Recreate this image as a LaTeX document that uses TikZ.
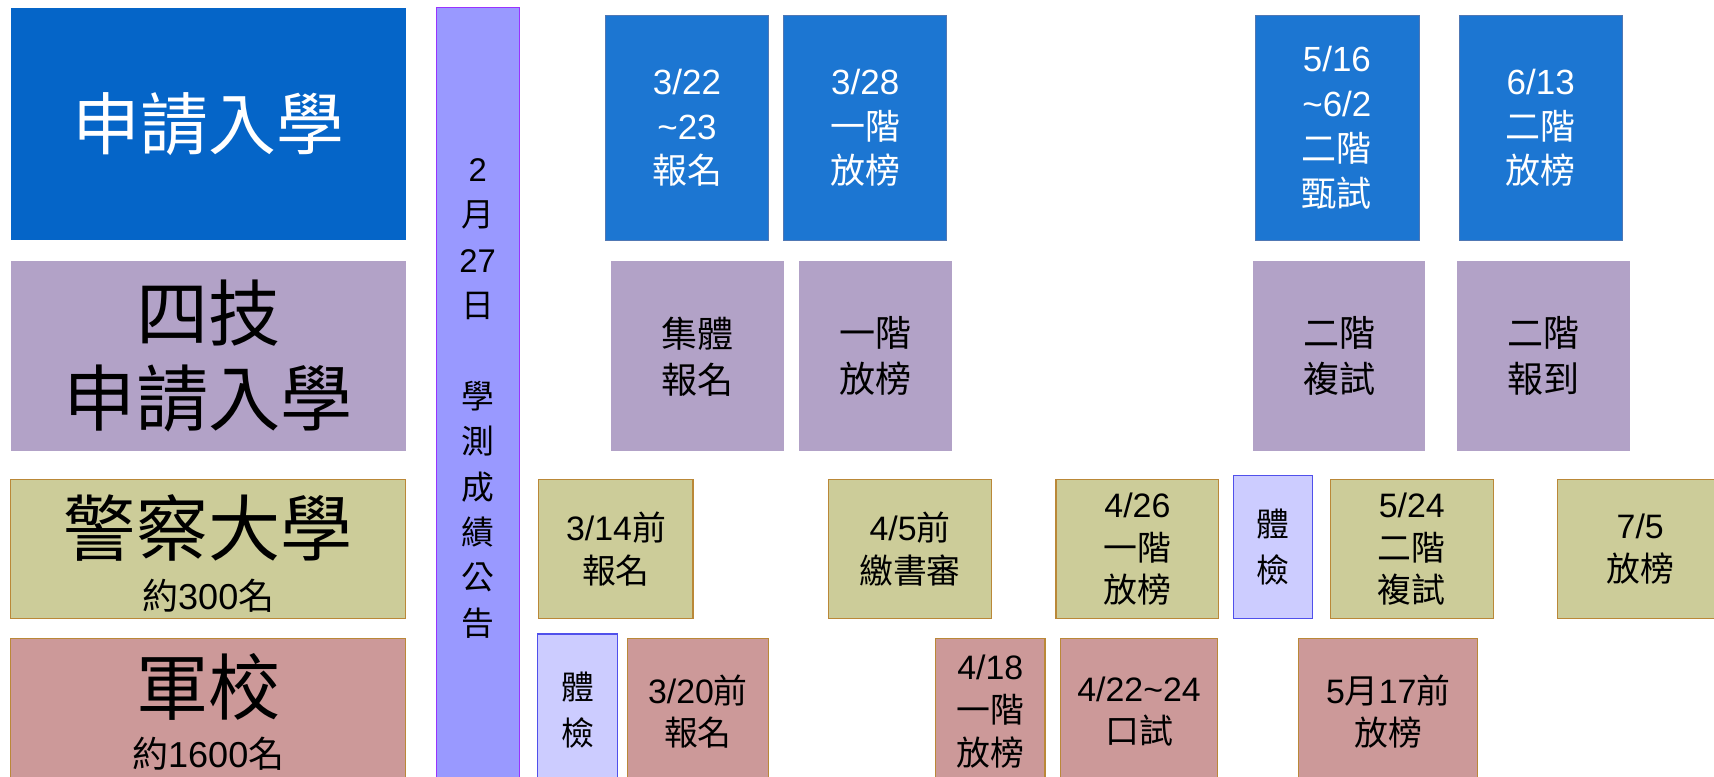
\documentclass[tikz,border=0pt]{standalone}
\usepackage{fontspec}
\setmainfont{Noto Sans CJK TC}
\newfontfamily\latin{Liberation Sans}
\newcommand\en[1]{{\latin #1}}

\definecolor{appblue}{RGB}{5,101,200}
\definecolor{evblue}{RGB}{28,118,210}
\definecolor{evblueedge}{RGB}{80,120,180}
\definecolor{techpurple}{RGB}{178,162,199}
\definecolor{policeolive}{RGB}{204,204,153}
\definecolor{milrose}{RGB}{204,153,153}
\definecolor{edgebrown}{RGB}{186,136,56}
\definecolor{checklav}{RGB}{204,204,255}
\definecolor{checkedge}{RGB}{80,80,235}
\definecolor{barfill}{RGB}{153,153,255}
\definecolor{baredge}{RGB}{153,51,255}

\tikzset{
  cell/.style={anchor=north west, inner sep=0pt, outer sep=0pt, align=center},
  rowlabel/.style={cell, draw=none},
  appevent/.style={cell, fill=evblue, draw=evblueedge, line width=0.6pt,
    text=white, font=\fontsize{32}{41}\selectfont},
  techevent/.style={cell, fill=techpurple, font=\fontsize{33}{42}\selectfont},
  policeevent/.style={cell, fill=policeolive, draw=edgebrown, line width=1pt,
    font=\fontsize{31}{39}\selectfont},
  milevent/.style={cell, fill=milrose, draw=edgebrown, line width=1pt,
    font=\fontsize{31}{39}\selectfont},
  checkup/.style={cell, fill=checklav, draw=checkedge, line width=1pt,
    font=\fontsize{30}{42}\selectfont},
  bigname/.style={font=\fontsize{66}{78}\selectfont, inner sep=0pt},
  quota/.style={font=\fontsize{33}{38}\selectfont, inner sep=0pt}
}

\begin{document}
\begin{tikzpicture}[x=1pt,y=-1pt]
  \useasboundingbox (0,0) rectangle (1568,710);
  \clip (0,0) rectangle (1568,710);
  \fill[white] (0,0) rectangle (1568,710);

  % row labels
  \node[rowlabel, fill=appblue, text=white, font=\fontsize{62}{70}\selectfont,
    minimum width=361, minimum height=213] (appL) at (10,7) {申請入學};
  \node[rowlabel, fill=techpurple, font=\fontsize{66}{78}\selectfont,
    minimum width=361, minimum height=174] (techL) at (10,239) {四技\\申請入學};
  \node[rowlabel, fill=policeolive, draw=edgebrown, line width=1pt,
    minimum width=361, minimum height=127] (policeL) at (10,439) {};
  \node[bigname] (policeN) at (190.5,483) {警察大學};
  \node[quota] (policeQ) at (190.5,545) {約\en{300}名};
  \node[rowlabel, fill=milrose, draw=edgebrown, line width=1pt,
    minimum width=361, minimum height=140] (milL) at (10,584) {};
  \node[bigname] (milN) at (190.5,628) {軍校};
  \node[quota] (milQ) at (190.5,690) {約\en{1600}名};

  % 2/27 exam results bar
  \node[cell, fill=barfill, draw=baredge, line width=1pt,
    font=\fontsize{30}{41.5}\selectfont, minimum width=76, minimum height=715]
    (exam) at (399,7) {\en{2}\\月\\\en{27}\\日\\[41.5pt]學\\測\\成\\績\\公\\告};

  % 申請入學
  \foreach \n/\xa/\xb/\txt in {
      1/554/703/{\en{3/22}\\\en{\textasciitilde23}\\報名},
      2/717/866/{\en{3/28}\\一階\\放榜},
      3/1148/1298/{\en{5/16}\\\en{\textasciitilde6/2}\\二階\\甄試},
      4/1335/1484/{\en{6/13}\\二階\\放榜}}
    \node[appevent, minimum width=\xb-\xa, minimum height=206] (app\n) at (\xa,14) {\txt};

  % 四技申請入學
  \foreach \n/\xa/\xb/\txt in {
      1/559/717/{集體\\報名},
      2/731/871/{一階\\放榜},
      3/1146/1304/{二階\\複試},
      4/1333/1491/{二階\\報到}}
    \node[techevent, minimum width=\xb-\xa, minimum height=174] (tech\n) at (\xa,239) {\txt};

  % 警察大學
  \foreach \n/\xa/\xb/\txt in {
      1/493/634/{\en{3/14}前\\報名},
      2/758/907/{\en{4/5}前\\繳書審},
      3/966/1115/{\en{4/26}\\一階\\放榜},
      4/1217/1366/{\en{5/24}\\二階\\複試},
      5/1425/1576/{\en{7/5}\\放榜}}
    \node[policeevent, minimum width=\xb-\xa, minimum height=127] (police\n) at (\xa,439) {\txt};
  \node[checkup, minimum width=73, minimum height=131] (policeChk) at (1128,435) {體\\檢};

  % 軍校
  \foreach \n/\xa/\xb/\txt in {
      1/574/703/{\en{3/20}前\\報名},
      2/856/956/{\en{4/18}\\一階\\放榜},
      3/970/1114/{\en{4/22\textasciitilde24}\\口試},
      4/1188/1352/{\en{5}月\en{17}前\\放榜}}
    \node[milevent, minimum width=\xb-\xa, minimum height=134] (mil\n) at (\xa,584) {\txt};
  \node[checkup, minimum width=73, minimum height=140] (milChk) at (492,580) {體\\檢};
\end{tikzpicture}
\end{document}
